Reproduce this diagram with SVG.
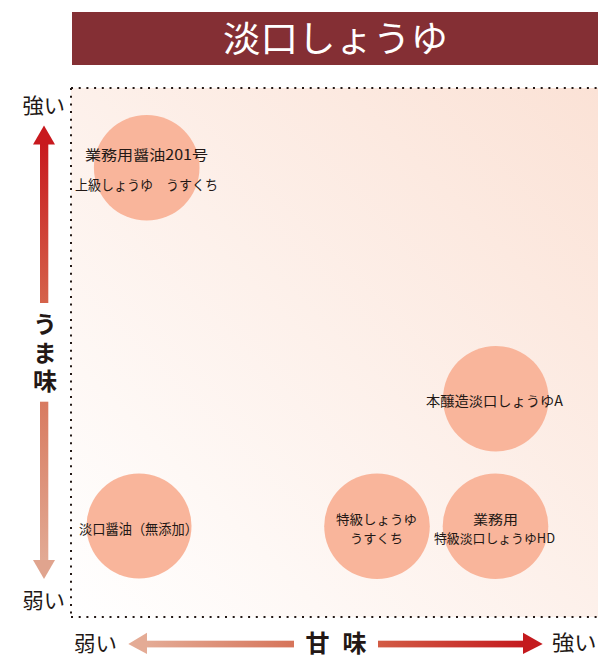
<svg xmlns="http://www.w3.org/2000/svg" width="598" height="661" viewBox="0 0 598 661">
  <style>
    .t { font-family: "Noto Sans CJK JP", "Noto Sans", sans-serif; fill: #231815; }
    .c { font-size: 14px; text-anchor: middle; }
    .c2 { font-size: 13px; text-anchor: middle; }
    .ax { font-size: 21px; }
    .b { font-weight: bold; font-size: 24px; text-anchor: middle; }
    .node circle { fill: #f9b59b; }
    .dot { stroke: #231815; stroke-width: 2; stroke-dasharray: 2 5.7; fill: none; }
  </style>
  <defs>
    <linearGradient id="bg" x1="0" y1="1" x2="1" y2="0">
      <stop offset="0" stop-color="#ffffff"/>
      <stop offset="1" stop-color="#fbe2d6"/>
    </linearGradient>
    <linearGradient id="gUp" x1="0" y1="0" x2="0" y2="1">
      <stop offset="0" stop-color="#c8191e"/>
      <stop offset="1" stop-color="#d5634b"/>
    </linearGradient>
    <linearGradient id="gDown" x1="0" y1="0" x2="0" y2="1">
      <stop offset="0" stop-color="#d87a60"/>
      <stop offset="1" stop-color="#e2aa94"/>
    </linearGradient>
    <linearGradient id="gLeft" x1="0" y1="0" x2="1" y2="0">
      <stop offset="0" stop-color="#e4ab95"/>
      <stop offset="1" stop-color="#d6745a"/>
    </linearGradient>
    <linearGradient id="gRight" x1="0" y1="0" x2="1" y2="0">
      <stop offset="0" stop-color="#d25c45"/>
      <stop offset="1" stop-color="#c41a1e"/>
    </linearGradient>
  </defs>

  <!-- title -->
  <g id="title">
    <rect x="72" y="12" width="526" height="53" fill="#842f34"/>
    <text class="t" x="335.5" y="52" font-size="36" text-anchor="middle" style="fill:#ffffff" textLength="225" lengthAdjust="spacingAndGlyphs">淡口しょうゆ</text>
  </g>

  <!-- plot area -->
  <g id="plot">
    <rect x="71" y="88" width="527" height="529" fill="url(#bg)"/>
    <path class="dot" d="M71 88 H598 M71 88 V617 M71 617 H598"/>
  </g>

  <!-- axes -->
  <g id="connectors">
    <rect x="40" y="144" width="8.3" height="159" fill="url(#gUp)"/>
    <polygon points="44,125.5 55,144.5 33,144.5" fill="#c8191e"/>
    <rect x="40" y="401.7" width="8.3" height="159" fill="url(#gDown)"/>
    <polygon points="33,560 55,560 44,579" fill="#e0a48e"/>
    <rect x="146" y="640.7" width="148" height="6.7" fill="url(#gLeft)"/>
    <polygon points="128.3,644 147,632.7 147,654" fill="#e4ab95"/>
    <rect x="378" y="640.7" width="146" height="6.7" fill="url(#gRight)"/>
    <polygon points="523,632.7 542.7,644 523,654" fill="#c41a1e"/>
  </g>

  <g id="axis-labels">
    <text class="t ax" x="22.5" y="112.5" textLength="42.5" lengthAdjust="spacingAndGlyphs">強い</text>
    <text class="t ax" x="22.5" y="607.5" textLength="42.5" lengthAdjust="spacingAndGlyphs">弱い</text>
    <text class="t ax" x="74" y="650.5" textLength="43" lengthAdjust="spacingAndGlyphs">弱い</text>
    <text class="t ax" x="552" y="649.5" textLength="44.5" lengthAdjust="spacingAndGlyphs">強い</text>
    <text class="t b" x="336" y="652" textLength="61" lengthAdjust="spacing">甘 味</text>
    <text class="t" x="45" y="312" font-size="24" font-weight="bold" writing-mode="vertical-rl" letter-spacing="4.5">うま味</text>
  </g>

  <!-- nodes -->
  <g id="node-gyomu201" class="node">
    <circle cx="146.7" cy="167.8" r="52.8"/>
    <text class="t c" x="146.5" y="160" textLength="123" lengthAdjust="spacingAndGlyphs">業務用醤油201号</text>
    <text class="t c" x="146.5" y="189.5" textLength="143" lengthAdjust="spacingAndGlyphs">上級しょうゆ　うすくち</text>
  </g>
  <g id="node-mutenka" class="node">
    <circle cx="139" cy="526" r="52.5"/>
    <text class="t c" x="138.5" y="534" textLength="119" lengthAdjust="spacingAndGlyphs">淡口醤油（無添加）</text>
  </g>
  <g id="node-honjozo" class="node">
    <circle cx="495.8" cy="398.7" r="52.8"/>
    <text class="t c" x="494.5" y="406" textLength="137" lengthAdjust="spacingAndGlyphs">本醸造淡口しょうゆA</text>
  </g>
  <g id="node-tokkyu" class="node">
    <circle cx="377" cy="526.3" r="52.8"/>
    <text class="t c2" x="376.5" y="524" textLength="81" lengthAdjust="spacingAndGlyphs">特級しょうゆ</text>
    <text class="t c2" x="376.5" y="543" textLength="53" lengthAdjust="spacingAndGlyphs">うすくち</text>
  </g>
  <g id="node-hd" class="node">
    <circle cx="495.5" cy="526.3" r="52.8"/>
    <text class="t c2" x="495.5" y="524" textLength="45" lengthAdjust="spacingAndGlyphs">業務用</text>
    <text class="t c2" x="494.5" y="543" textLength="121" lengthAdjust="spacingAndGlyphs">特級淡口しょうゆHD</text>
  </g>
</svg>
